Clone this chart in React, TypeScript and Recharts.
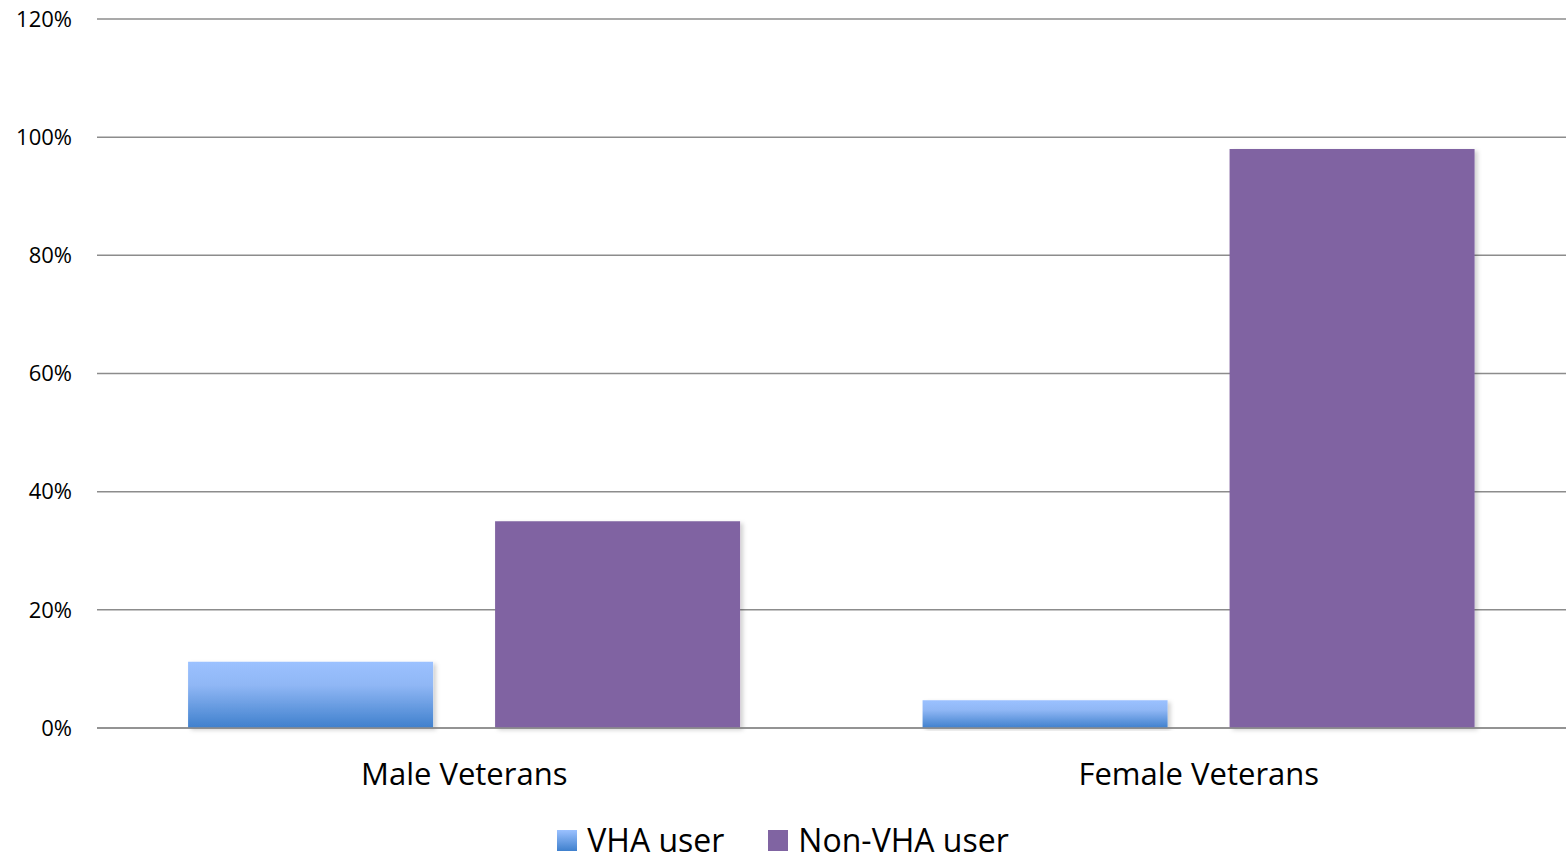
import { BarChart, Bar, XAxis, YAxis, CartesianGrid } from "recharts";

const categories = ["Male Veterans", "Female Veterans"];
const vhaUser = [11.2, 4.7];
const nonVhaUser = [35, 98];
const yTicks = [0, 20, 40, 60, 80, 100, 120];

const series = [
  { key: "vha", name: "VHA user", fill: "url(#vhaGrad)", swatch: "linear-gradient(#9bc1ff, #3f80cd)" },
  { key: "nonVha", name: "Non-VHA user", fill: "#8064a2", swatch: "#8064a2" },
];

const data = categories.map((c, i) => ({ name: c, vha: vhaUser[i], nonVha: nonVhaUser[i] }));

const font = "'Open Sans', 'Noto Sans', sans-serif";

export default function App() {
  return (
    <div style={{ position: "absolute", left: 0, top: 0, width: 1566, height: 859, background: "#fff", fontFamily: font }}>
      <BarChart
        width={1566}
        height={859}
        data={data}
        margin={{ top: 19, right: 0, left: 0, bottom: 0 }}
        barCategoryGap="12.4%"
        barGap={62}
      >
        <defs>
          <linearGradient id="vhaGrad" x1="0" y1="0" x2="0" y2="1">
            <stop offset="0%" stopColor="#9bc1ff" />
            <stop offset="35%" stopColor="#90b7f5" />
            <stop offset="100%" stopColor="#3f80cd" />
          </linearGradient>
          <filter id="barShadow" x="-5%" y="-5%" width="115%" height="115%">
            <feDropShadow dx="3" dy="2" stdDeviation="2" floodColor="#000" floodOpacity="0.18" />
          </filter>
        </defs>
        <CartesianGrid vertical={false} stroke="#8c8c8c" strokeWidth={1.5} />
        <XAxis
          dataKey="name"
          height={131}
          axisLine={{ stroke: "#8c8c8c", strokeWidth: 1.5 }}
          tickLine={false}
          tickSize={0}
          tickMargin={35}
          tick={{ fill: "#000", fontSize: 31, fontFamily: font }}
        />
        <YAxis
          domain={[0, 120]}
          ticks={yTicks}
          width={97}
          axisLine={false}
          tickLine={false}
          tickSize={0}
          tickMargin={25}
          tickFormatter={(v) => `${v}%`}
          tick={{ fill: "#000", fontSize: 22, fontFamily: font }}
        />
        {series.map((s) => (
          <Bar key={s.key} dataKey={s.key} name={s.name} fill={s.fill} filter="url(#barShadow)" isAnimationActive={false} />
        ))}
      </BarChart>
      <div
        style={{
          position: "absolute",
          top: 823,
          left: 0,
          width: 1566,
          display: "flex",
          justifyContent: "center",
          gap: 44,
          fontSize: 32,
          lineHeight: "34px",
          color: "#000",
        }}
      >
        {series.map((s) => (
          <div key={s.key} style={{ display: "flex", alignItems: "center", gap: 10 }}>
            <span style={{ width: 20, height: 21, background: s.swatch, display: "inline-block" }} />
            <span>{s.name}</span>
          </div>
        ))}
      </div>
    </div>
  );
}
